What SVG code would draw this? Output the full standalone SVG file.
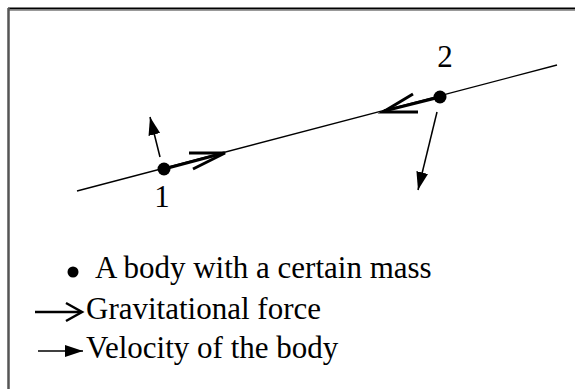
<svg xmlns="http://www.w3.org/2000/svg" width="575" height="389" viewBox="0 0 575 389">
<defs>
<style>
text{font-family:"Liberation Serif","Times New Roman",serif;fill:#000}
.lbl{font-size:31px}
.leg{font-size:31px}
.thin{stroke:#000;stroke-width:1.3;fill:none}
.force{stroke:#000;stroke-width:3;fill:none;stroke-linecap:butt}
.vel{stroke:#000;stroke-width:1.5;fill:none}
</style>
<marker id="vhead" viewBox="0 0 18 12" refX="18" refY="6" markerWidth="18" markerHeight="12" markerUnits="userSpaceOnUse" orient="auto">
<path d="M0,0 L18,6 L0,12 Z" fill="#000"/>
</marker>
</defs>
<rect x="0" y="0" width="575" height="389" fill="#fff"/>
<g id="frame">
<line x1="8" y1="8.5" x2="575" y2="8.5" stroke="#000" stroke-width="2"/>
<line x1="8" y1="10.5" x2="575" y2="10.5" stroke="#999" stroke-width="1"/>
<line x1="8.5" y1="8" x2="8.5" y2="389" stroke="#555" stroke-width="2.5"/>
</g>
<g id="connectors">
<line class="thin" x1="77" y1="191" x2="557" y2="65"/>
<g id="force1">
<line class="force" x1="164" y1="169" x2="224" y2="153"/>
<polyline class="force" points="189,153 225,153 193,169"/>
</g>
<g id="force2">
<line class="force" x1="440" y1="97" x2="384" y2="111"/>
<polyline class="force" points="413,94 383,112 418,112"/>
</g>
<line id="vel1" class="vel" x1="160" y1="157" x2="150" y2="117" marker-end="url(#vhead)"/>
<line id="vel2" class="vel" x1="437" y1="112" x2="418" y2="190" marker-end="url(#vhead)"/>
</g>
<g id="body1">
<circle cx="164" cy="169" r="6.5" fill="#000"/>
<text class="lbl" x="162" y="207" text-anchor="middle">1</text>
</g>
<g id="body2">
<circle cx="440" cy="97" r="6.5" fill="#000"/>
<text class="lbl" x="445" y="67" text-anchor="middle">2</text>
</g>
<g id="legend">
<g id="leg-mass">
<circle cx="73" cy="272" r="5.5" fill="#000"/>
<text class="leg" x="95" y="278">A body with a certain mass</text>
</g>
<g id="leg-force">
<line x1="35" y1="312" x2="80" y2="312" stroke="#000" stroke-width="2.5"/>
<polyline points="66,303 82,312 66,321" fill="none" stroke="#000" stroke-width="2.5"/>
<text class="leg" x="86" y="319">Gravitational force</text>
</g>
<g id="leg-vel">
<line class="vel" x1="38" y1="351" x2="83" y2="351" marker-end="url(#vhead)"/>
<text class="leg" x="86" y="358">Velocity of the body</text>
</g>
</g>
</svg>
